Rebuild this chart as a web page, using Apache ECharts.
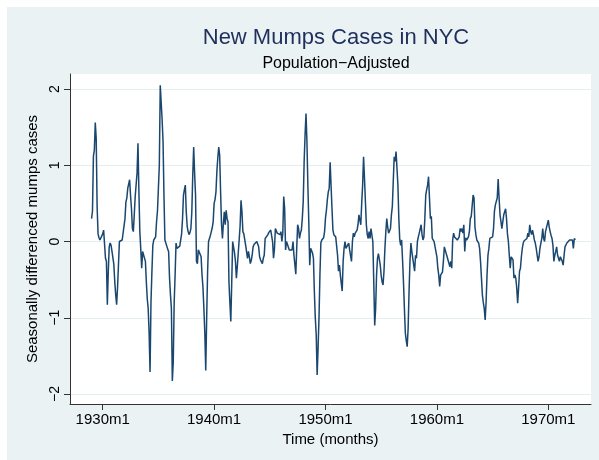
<!DOCTYPE html>
<html>
<head>
<meta charset="utf-8">
<script src="https://cdn.jsdelivr.net/npm/echarts@6/dist/echarts.min.js"></script>
<style>html,body{margin:0;padding:0;background:#fff;}#chart{width:599px;height:460px;}</style>
</head>
<body>
<div id="chart"></div>
<script>
// Month index 0 = 1930m1; first observation = 1929m1 (index -12), last = 1972m6 (index 509)
const firstMonth = -12;
// Seasonally differenced mumps cases, one row per year (Jan..Dec)
const mumpsDiff = [
  /*1929*/ 0.30, 0.40, 1.12, 1.20, 1.56, 1.35, 0.45, 0.10, 0.05, 0.02, 0.02, 0.03,
  /*1930*/ 0.10, 0.15, 0.17, -0.22, -0.26, -0.83, -0.40, -0.07, -0.02, -0.05, -0.13, -0.15,
  /*1931*/ -0.30, -0.53, -0.70, -0.83, -0.60, -0.30, 0.00, 0.00, 0.00, 0.02, 0.03, 0.04,
  /*1932*/ 0.30, 0.52, 0.57, 0.70, 0.68, 0.81, 0.60, 0.43, 0.17, 0.13, 0.35, 0.59,
  /*1933*/ 0.57, 0.90, 1.29, 0.65, 0.13, -0.10, -0.35, -0.13, -0.12, -0.15, -0.26, -0.53,
  /*1934*/ -0.75, -0.88, -1.20, -1.71, -0.80, -0.40, -0.05, 0.02, 0.04, 0.06, 0.26, 0.40,
  /*1935*/ 0.70, 1.00, 2.05, 2.06, 1.60, 1.31, 0.60, 0.02, 0.00, 0.00, -0.10, -0.13,
  /*1936*/ -0.48, -0.70, -0.88, -1.83, -1.58, -0.80, -0.44, -0.02, -0.09, -0.08, -0.07, -0.06,
  /*1937*/ -0.05, 0.10, 0.30, 0.61, 0.68, 0.74, 0.39, 0.20, 0.13, 0.09, 0.12, 0.17,
  /*1938*/ 0.39, 0.87, 1.24, 0.90, 0.61, -0.26, -0.29, -0.11, -0.09, -0.12, -0.20, -0.44,
  /*1939*/ -0.60, -0.88, -1.20, -1.69, -1.00, -0.40, 0.00, 0.02, 0.08, 0.13, 0.18, 0.26,
  /*1940*/ 0.50, 0.55, 0.65, 0.92, 1.10, 1.24, 1.13, 0.65, 0.22, 0.04, 0.24, 0.39,
  /*1941*/ 0.22, 0.41, 0.30, 0.26, -0.53, -0.80, -1.05, -0.53, 0.00, 0.02, -0.15, -0.26,
  /*1942*/ -0.48, -0.33, -0.32, -0.31, 0.20, 0.54, 0.39, 0.13, 0.10, 0.09, -0.05, -0.07,
  /*1943*/ -0.22, -0.13, -0.20, -0.29, -0.25, -0.18, -0.07, -0.04, -0.02, -0.05, 0.00, 0.02,
  /*1944*/ -0.07, -0.20, -0.24, -0.26, -0.29, -0.22, -0.18, 0.04, 0.05, 0.06, 0.09, 0.12,
  /*1945*/ 0.13, 0.15, 0.13, 0.00, -0.22, -0.10, 0.17, 0.19, 0.11, 0.09, 0.13, 0.09,
  /*1946*/ 0.13, 0.00, 0.11, 0.59, 0.43, -0.11, 0.00, -0.01, -0.02, -0.11, -0.11, -0.10,
  /*1947*/ -0.11, 0.00, -0.18, -0.30, -0.43, -0.09, 0.22, 0.17, 0.04, 0.11, 0.15, 0.30,
  /*1948*/ 0.52, 1.05, 1.40, 1.68, 1.31, 0.74, 0.26, -0.31, -0.09, -0.11, -0.15, -0.22,
  /*1949*/ -0.66, -1.00, -1.22, -1.75, -1.40, -1.00, -0.44, -0.02, 0.02, 0.00, 0.05, 0.13,
  /*1950*/ 0.31, 0.41, 0.55, 0.65, 0.70, 1.04, 1.02, 0.43, 0.15, 0.09, 0.09, 0.06,
  /*1951*/ 0.04, -0.18, -0.39, -0.31, -0.44, -0.55, -0.65, -0.26, -0.09, 0.00, -0.09, -0.07,
  /*1952*/ -0.09, -0.02, -0.11, -0.09, -0.26, 0.00, 0.11, 0.06, 0.11, 0.11, 0.15, 0.22,
  /*1953*/ 0.35, 0.37, 0.22, 0.50, 0.74, 1.11, 0.83, 0.52, 0.22, 0.09, 0.04, 0.13,
  /*1954*/ 0.04, 0.17, 0.19, 0.00, -0.53, -1.10, -0.88, -0.44, -0.22, -0.16, -0.16, -0.31,
  /*1955*/ -0.45, -0.53, -0.57, -0.39, -0.09, 0.13, 0.30, 0.19, 0.11, 0.12, 0.17, 0.35,
  /*1956*/ 0.46, 0.79, 1.11, 1.05, 1.18, 1.20, 0.74, 0.30, 0.02, -0.05, 0.02, -0.24,
  /*1957*/ -0.53, -0.88, -1.20, -1.30, -1.38, -1.14, -0.66, -0.26, -0.02, -0.13, -0.22, -0.20,
  /*1958*/ -0.39, -0.18, -0.22, 0.00, 0.06, 0.11, 0.13, 0.22, 0.09, 0.02, 0.06, 0.30,
  /*1959*/ 0.61, 0.68, 0.74, 0.85, 0.57, 0.30, 0.33, 0.04, 0.02, 0.00, 0.02, 0.02,
  /*1960*/ -0.20, -0.35, -0.44, -0.59, -0.44, -0.42, -0.40, -0.26, -0.07, -0.07, -0.05, -0.20,
  /*1961*/ -0.22, -0.20, -0.33, -0.26, -0.35, 0.02, 0.11, 0.06, 0.04, 0.04, 0.02, 0.00,
  /*1962*/ 0.06, 0.17, 0.13, 0.17, 0.11, 0.22, -0.13, 0.05, 0.02, 0.04, 0.06, 0.13,
  /*1963*/ 0.30, 0.33, 0.35, 0.61, 0.57, 0.19, 0.09, 0.02, 0.02, -0.02, -0.09, -0.26,
  /*1964*/ -0.48, -0.70, -0.80, -0.88, -1.03, -0.79, -0.44, -0.18, -0.09, 0.04, 0.04, 0.03,
  /*1965*/ 0.06, 0.17, 0.40, 0.48, 0.50, 0.57, 0.82, 0.57, 0.35, 0.26, 0.17, 0.26,
  /*1966*/ 0.35, 0.33, 0.43, 0.30, 0.10, 0.00, -0.18, -0.35, -0.20, -0.18, -0.24, -0.48,
  /*1967*/ -0.44, -0.48, -0.61, -0.81, -0.61, -0.39, -0.35, -0.20, -0.09, -0.02, 0.01, 0.02,
  /*1968*/ 0.03, 0.04, 0.11, 0.06, 0.22, 0.13, 0.09, 0.15, 0.09, 0.02, -0.02, -0.09,
  /*1969*/ -0.18, -0.26, -0.20, -0.09, -0.02, 0.04, 0.17, 0.04, 0.00, 0.13, 0.11, 0.15,
  /*1970*/ 0.28, 0.19, 0.13, 0.08, 0.04, -0.05, -0.26, -0.18, -0.13, -0.07, -0.18, -0.18,
  /*1971*/ -0.26, -0.20, -0.18, -0.26, -0.31, -0.18, -0.07, -0.05, -0.02, -0.01, 0.00, 0.02,
  /*1972*/ 0.02, 0.01, 0.02, -0.09, 0.04, 0.02
];
const xTickMonths = [0, 120, 240, 360, 480];
const xTickLabels = ['1930m1', '1940m1', '1950m1', '1960m1', '1970m1'];
const yTickValues = [-2, -1, 0, 1, 2];
const yTickLabels = ['\u22122', '\u22121', '0', '1', '2'];

const FONT = '"Liberation Sans", Arial, Helvetica, sans-serif';
const seriesData = mumpsDiff.map((v, i) => [firstMonth + i, v]);

const chart = echarts.init(document.getElementById('chart'), null, {renderer: 'canvas'});
chart.setOption({
  animation: false,
  backgroundColor: '#ffffff',
  graphic: [{
    type: 'rect', z: -100, silent: true,
    shape: {x: 7, y: 7, width: 592, height: 453},
    style: {fill: '#EAF2F3'}
  }],
  title: [
    {text: 'New Mumps Cases in NYC', left: 331, top: 22, textAlign: 'center',
     textStyle: {fontFamily: FONT, fontSize: 22, fontWeight: 'normal', color: '#1F2F5C'}},
    {text: 'Population\u2212Adjusted', left: 331, top: 51, textAlign: 'center',
     textStyle: {fontFamily: FONT, fontSize: 16, fontWeight: 'normal', color: '#000'}}
  ],
  grid: {left: 70, right: 8, top: 74, bottom: 56, show: true, backgroundColor: '#ffffff', borderWidth: 0, containLabel: false},
  xAxis: {
    type: 'value', min: -35.23, max: 526.0,
    name: 'Time (months)', nameLocation: 'middle', nameGap: 27,
    nameTextStyle: {fontFamily: FONT, fontSize: 15, color: '#000'},
    axisLine: {show: true, onZero: false, lineStyle: {color: '#333', width: 1}},
    axisTick: {show: true, length: 6, customValues: xTickMonths, lineStyle: {color: '#333'}},
    axisLabel: {customValues: xTickMonths, margin: 8, fontFamily: FONT, fontSize: 15, color: '#000',
      formatter: v => xTickLabels[xTickMonths.indexOf(Math.round(v))] || ''},
    splitLine: {show: false}
  },
  yAxis: {
    type: 'value', min: -2.131, max: 2.197,
    name: 'Seasonally differenced mumps cases', nameLocation: 'middle', nameGap: 30, nameRotate: 90,
    nameTextStyle: {fontFamily: FONT, fontSize: 15, color: '#000'},
    axisLine: {show: true, onZero: false, lineStyle: {color: '#333', width: 1}},
    axisTick: {show: true, length: 6, customValues: yTickValues, lineStyle: {color: '#333'}},
    axisLabel: {customValues: yTickValues, rotate: 90, margin: 8, fontFamily: FONT, fontSize: 14, color: '#000',
      formatter: v => yTickLabels[yTickValues.indexOf(Math.round(v))] || ''},
    splitLine: {show: true, lineStyle: {color: '#E4EDEF', width: 1}}
  },
  series: [{
    type: 'line', data: seriesData, showSymbol: false, symbol: 'none',
    lineStyle: {color: '#1A476F', width: 1.5}, itemStyle: {color: '#1A476F'}
  }]
});
</script>
</body>
</html>
